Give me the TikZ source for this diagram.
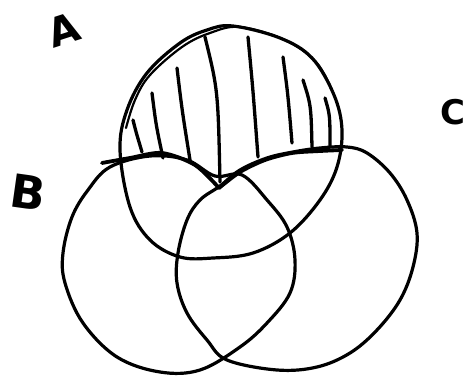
\documentclass[tikz,border=0pt]{standalone}
\usepackage{fontspec}
\newfontfamily\handfont{DejaVu Sans}
\begin{document}
\begin{tikzpicture}[x=1pt,y=-1pt,
  ink/.style={line width=3.2pt,line cap=round,line join=round,black},
  hatchline/.style={line width=3.3pt,line cap=round,black},
  lbl/.style={inner sep=0pt}]
\useasboundingbox (0,0) rectangle (472,380);
% circle A
\draw[ink] plot[smooth cycle,tension=0.6] coordinates {
 (233,26) (280,38) (312,58) (334,95) (342,130) (337,167) (320,200) (290,233)
 (253,253) (213,258) (180,257) (150,240) (130,207) (120,150) (127,110)
 (147,73) (180,43) (207,30)};
% second stroke on top of A
\draw[ink,line width=2.2pt] plot[smooth,tension=0.6] coordinates {
 (126,128) (135,100) (150,75) (182,47) (210,33) (240,27) (285,40) (316,62) (332,90)};
% circle B
\draw[ink] plot[smooth cycle,tension=0.6] coordinates {
 (110,167) (150,156) (187,160) (215,176) (242,175) (267,200) (287,227)
 (295,260) (290,293) (267,323) (240,347) (200,370) (160,372)
 (117,357) (83,323) (65,283) (63,253) (72,217) (88,190)};
% circle C
\draw[ink] plot[smooth cycle,tension=0.6] coordinates {
 (347,147) (367,153) (390,173) (407,200) (417,233) (413,267) (400,300)
 (377,330) (350,353) (317,367) (277,370) (227,360) (207,340)
 (187,313) (177,283) (178,253) (187,220) (200,200) (220,186) (240,170)
 (267,158) (293,152) (320,148)};
% thick lower boundary of the hatched part
\draw[ink,line width=3.8pt] plot[smooth,tension=0.5] coordinates {
 (102,163) (130,158) (162,153) (195,165) (219,188)};
\draw[ink,line width=3.8pt] plot[smooth,tension=0.5] coordinates {
 (219,188) (240,172) (265,160) (292,153) (320,151) (342,150)};
% hatching
\draw[hatchline] (133,120) .. controls (136,132) .. (142,152);
\draw[hatchline] (152,93) .. controls (156,125) .. (163,158);
\draw[hatchline] (177,68) .. controls (182,110) .. (190,160);
\draw[hatchline] (205,37) .. controls (218,90) .. (220,182);
\draw[hatchline] (248,37) .. controls (253,90) .. (258,157);
\draw[hatchline] (283,57) .. controls (288,95) .. (292,143);
\draw[hatchline] (303,80) .. controls (311,105) .. (312,147);
\draw[hatchline] (325,98) .. controls (330,115) .. (330,147);
% labels
\node[lbl,font=\handfont\bfseries\fontsize{40}{40}\selectfont,rotate=18] (la) at (64,30) {A};
\node[lbl,font=\handfont\bfseries\fontsize{46}{46}\selectfont,rotate=-8] (lb) at (28,192) {B};
\node[lbl,font=\handfont\bfseries\fontsize{34}{34}\selectfont] (lc) at (453,112) {C};
\end{tikzpicture}
\end{document}
